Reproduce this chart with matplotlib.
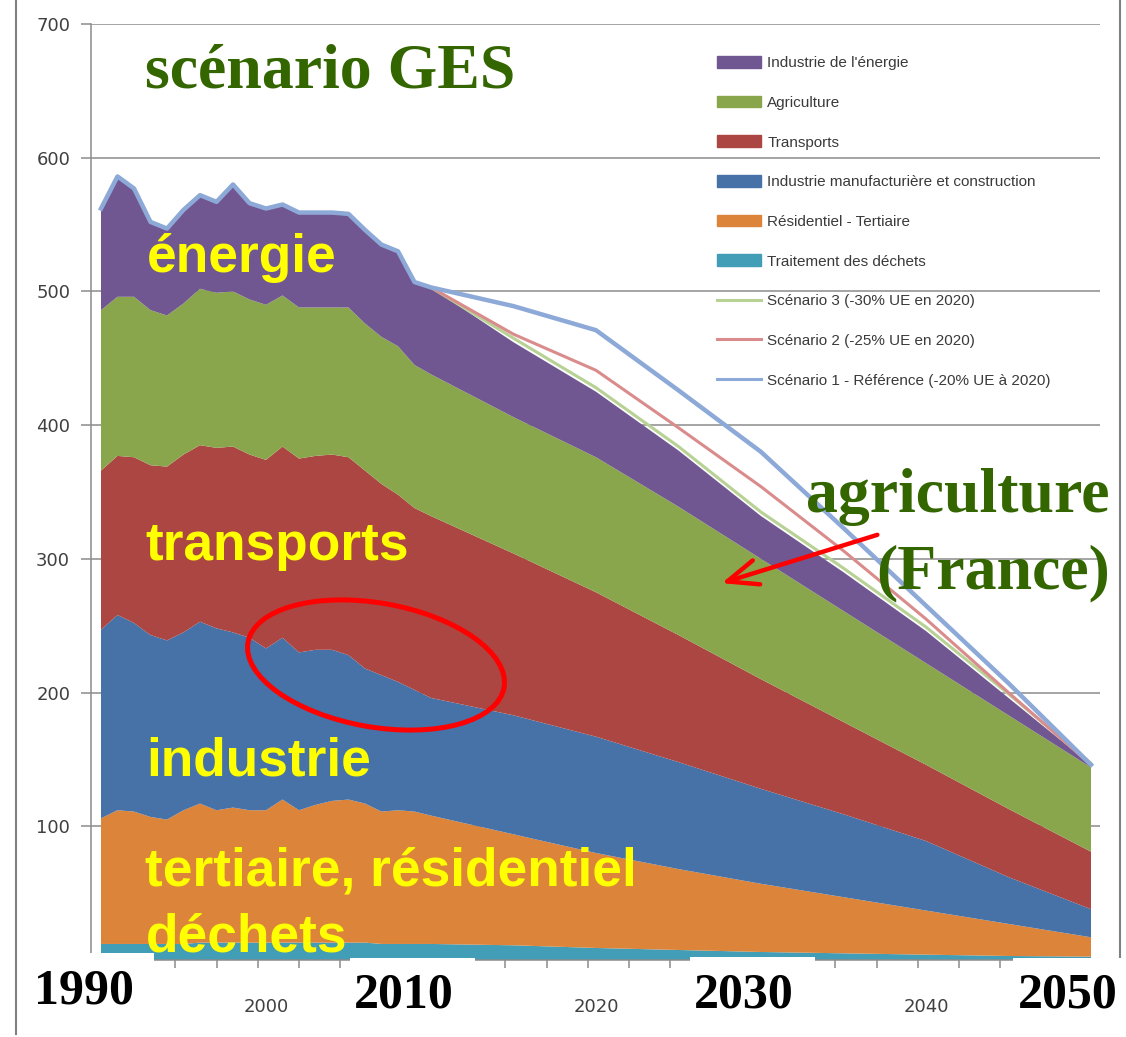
import numpy as np
import matplotlib.pyplot as plt
from matplotlib.patches import Ellipse, FancyArrowPatch, Rectangle, Patch
from matplotlib.lines import Line2D

W, H = 1126, 1037

# years: yearly history, then 5-year projection points
years = list(range(1990, 2011)) + [2015, 2020, 2025, 2030, 2035, 2040, 2045, 2050]

# emissions by sector (Mt CO2e), bottom to top of the stack
dechets = [12, 12, 12, 12, 12, 12, 13, 13, 13, 13, 13, 13, 13, 13, 13, 13, 13, 12, 12, 12, 12,
           11, 9, 7.5, 6, 5, 4, 3, 2.5]
residentiel = [94, 100, 99, 95, 93, 100, 104, 99, 101, 99, 99, 107, 99, 103, 106, 107, 104, 99, 100, 99, 96,
               83, 71, 60.5, 51, 42, 33, 24, 14.5]
industrie = [141, 146, 141, 136, 134, 133, 136, 136, 131, 129, 121, 121, 118, 116, 113, 108, 101, 102, 96, 91, 88,
             89, 87, 80, 71, 62, 52, 35, 21]
transports = [119, 119, 124, 127, 130, 133, 132, 135, 139, 137, 141, 143, 145, 145, 146, 148, 148, 143, 140, 136, 136,
              121, 108, 95, 82, 69, 57, 51, 43]
agriculture = [120, 119, 120, 116, 113, 113, 117, 116, 116, 116, 116, 113, 113, 111, 110, 112, 110, 110, 111, 107, 106,
               102, 101, 96, 90, 83, 76, 70, 63]
energie = [76, 90, 81, 66, 65, 70, 70, 68, 80, 72, 72, 68, 71, 71, 71, 70, 70, 69, 71, 62, 65,
           56, 49, 42, 32, 29, 24, 13, 2]

# scenario totals after 2010 (2015 ... 2050)
scen3_proj = [465, 428, 384, 335, 293, 249, 199, 147]
scen2_proj = [468, 441, 398, 354, 306, 255, 200, 146]
scen1_proj = [489, 471, 426, 380, 323, 265, 207, 146]

labels = ["Industrie de l'énergie", "Agriculture", "Transports",
          "Industrie manufacturière et construction", "Résidentiel - Tertiaire",
          "Traitement des déchets", "Scénario 3 (-30% UE en 2020)",
          "Scénario 2 (-25% UE en 2020)", "Scénario 1 - Référence (-20% UE à 2020)"]

c_dech, c_res, c_ind = '#429DB6', '#DC843A', '#4672A7'
c_tra, c_agr, c_ene = '#AC4642', '#8AA64D', '#715791'
c_s3, c_s2, c_s1 = '#B8D296', '#DA8C8C', '#8DA9D8'

stack = np.array([dechets, residentiel, industrie, transports, agriculture, energie])
total = stack.sum(axis=0)
n_hist = 21
scen3 = list(total[:n_hist]) + scen3_proj
scen2 = list(total[:n_hist]) + scen2_proj
scen1 = list(total[:n_hist]) + scen1_proj


def fx(x):
    return x / W


def fy(y):
    return 1 - y / H


fig = plt.figure(figsize=(W / 100, H / 100), dpi=100)
ax = fig.add_axes([fx(91), fy(960), (1100 - 91) / W, (960 - 24) / H])

ax.stackplot(years, stack, colors=[c_dech, c_res, c_ind, c_tra, c_agr, c_ene], linewidth=0, zorder=2)
ax.plot(years, scen3, color=c_s3, lw=2.2, zorder=3)
ax.plot(years, scen2, color=c_s2, lw=2.2, zorder=3)
ax.plot(years, scen1, color=c_s1, lw=3.2, zorder=4, solid_joinstyle='round')

ax.set_xlim(1989.394, 2050.545)
ax.set_ylim(0, 700)
yt = list(range(0, 701, 100))
ax.set_yticks(yt)
ax.set_yticklabels(['' if v == 0 else str(v) for v in yt])  # 0 is hidden under the 1990 box
ax.yaxis.grid(True, color='#8c8c8c', lw=1.1)
ax.set_axisbelow(True)
for s in ['top', 'right']:
    ax.spines[s].set_visible(False)
for s in ['left', 'bottom']:
    ax.spines[s].set_color('#8c8c8c')
    ax.spines[s].set_linewidth(1.1)
ax.tick_params(axis='y', direction='out', length=7, width=1.1, color='#8c8c8c',
               labelsize=13, labelcolor='#404040', pad=8)
ax.set_xticks([2000, 2020, 2040])
ax.set_xticks([1989.5 + 2.5 * k for k in range(25)], minor=True)
ax.tick_params(axis='x', which='major', length=0, labelsize=13, labelcolor='#404040', pad=27)
ax.tick_params(axis='x', which='minor', direction='out', length=6, width=1.1, color='#8c8c8c')

handles = [Patch(color=c) for c in [c_ene, c_agr, c_tra, c_ind, c_res, c_dech]]
handles += [Line2D([], [], color=c_s3, lw=2.2), Line2D([], [], color=c_s2, lw=2.2),
            Line2D([], [], color=c_s1, lw=2.2)]
ax.legend(handles, labels, loc='upper left', bbox_to_anchor=(fx(717), fy(56)),
          bbox_transform=fig.transFigure, frameon=False, borderpad=0, borderaxespad=0,
          handlelength=2.9, handleheight=0.8, handletextpad=0.4, labelspacing=1.672,
          prop={'family': 'Liberation Sans', 'size': 11}, labelcolor='#3a3a3a')

# chart border lines
fig.add_artist(Line2D([fx(16), fx(16)], [fy(0), fy(1034)], color='#808080', lw=1.5))
fig.add_artist(Line2D([fx(1120), fx(1120)], [fy(0), fy(1037)], color='#808080', lw=1.5))

# white boxes with big year labels
for x0, x1, y0, txt, tx, ty in [(21, 154, 953, '1990', 34, 1003),
                                 (350, 475, 958, '2010', 354, 1007),
                                 (690, 815, 957, '2030', 694, 1007),
                                 (1013, 1126, 958, '2050', 1018, 1007)]:
    fig.add_artist(Rectangle((fx(x0), fy(H)), (x1 - x0) / W, (H - y0) / H,
                             transform=fig.transFigure, facecolor='white', edgecolor='none', zorder=5))
    fig.text(fx(tx), fy(ty), txt, family='Liberation Serif', weight='bold', size=36,
             color='black', va='baseline', ha='left', zorder=6)

serif = dict(family='Liberation Serif', weight='bold', size=46, color='#346600', va='baseline', zorder=6)
fig.text(fx(145), fy(87), 'scénario GES', ha='left', **serif)
fig.text(fx(1110), fy(512), 'agriculture', ha='right', **serif)
fig.text(fx(1110), fy(588), '(France)', ha='right', **serif)

sans = dict(family='Liberation Sans', weight='bold', size=38.3, color='#FFFF00', va='baseline', ha='left', zorder=7)
fig.text(fx(147), fy(272), 'énergie', **sans)
fig.text(fx(145), fy(560), 'transports', **sans)
fig.text(fx(146), fy(775), 'industrie', **sans)
fig.text(fx(145), fy(885), 'tertiaire, résidentiel', **sans)
fig.text(fx(146), fy(952), 'déchets', **sans)

# red ellipse and arrow (drawn in inches)
fig.add_artist(Ellipse((3.76, (H - 665) / 100), 2.60, 1.24, angle=-10, fill=False,
                       edgecolor='#FF0000', lw=3.6, transform=fig.dpi_scale_trans, zorder=6))
fig.add_artist(FancyArrowPatch((8.80, (H - 534) / 100), (7.19, (H - 584) / 100),
                               arrowstyle='->,head_length=1.1,head_width=0.45', mutation_scale=20,
                               color='#FF0000', lw=3.2, transform=fig.dpi_scale_trans, zorder=6))

fig.savefig('out.png', dpi=100, facecolor='white')
